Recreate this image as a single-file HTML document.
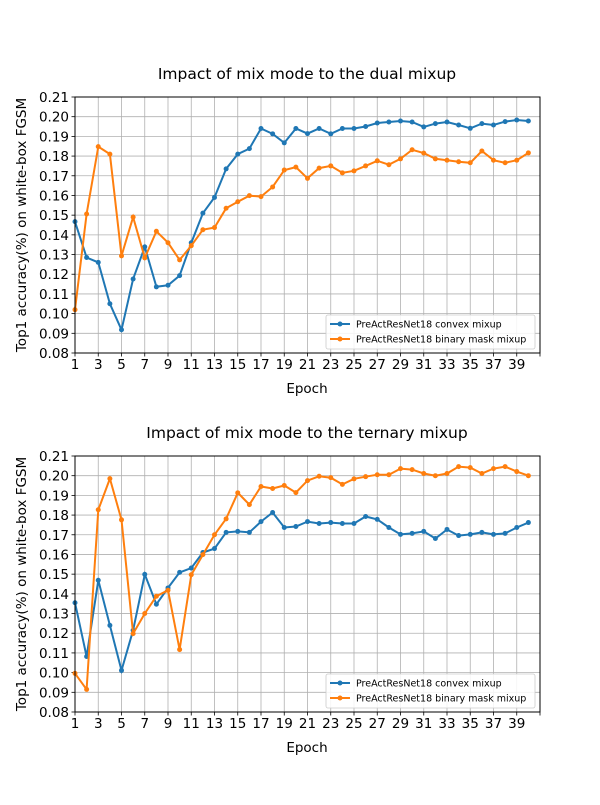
<!DOCTYPE html>
<html><head><meta charset="utf-8"><style>
body{margin:0;background:#fff;font-family:"Liberation Sans","DejaVu Sans",sans-serif}
svg text{font-family:"DejaVu Sans","Liberation Sans",sans-serif}
</style></head><body>
<svg id="chart" width="600" height="800" xmlns="http://www.w3.org/2000/svg"></svg>
<script>
const epochs = Array.from({length:40},(_, i)=>i+1);
const xTicks = [1,3,5,7,9,11,13,15,17,19,21,23,25,27,29,31,33,35,37,39,41];
const xTickLabels = ["1","3","5","7","9","11","13","15","17","19","21","23","25","27","29","31","33","35","37","39",""];
const yTicks = [0.08,0.09,0.10,0.11,0.12,0.13,0.14,0.15,0.16,0.17,0.18,0.19,0.20,0.21];
const titles = ["Impact of mix mode to the dual mixup","Impact of mix mode to the ternary mixup"];
const seriesNames = ["PreActResNet18 convex mixup","PreActResNet18 binary mask mixup"];
const dualConvex = [0.1467,0.1285,0.126,0.105,0.0918,0.1176,0.1339,0.1136,0.1144,0.1193,0.136,0.151,0.159,0.1735,0.181,0.1838,0.194,0.1913,0.1867,0.194,0.1914,0.194,0.1913,0.194,0.194,0.195,0.1968,0.1973,0.1978,0.1973,0.1948,0.1965,0.1973,0.1958,0.1941,0.1965,0.1958,0.1975,0.1983,0.1978];
const dualBinary = [0.102,0.1506,0.1848,0.181,0.1293,0.149,0.1283,0.1418,0.136,0.1273,0.1345,0.1426,0.1437,0.1535,0.1568,0.1599,0.1594,0.1643,0.1729,0.1744,0.1687,0.1739,0.175,0.1715,0.1725,0.175,0.1776,0.1756,0.1786,0.1832,0.1815,0.1786,0.1779,0.1771,0.1766,0.1826,0.1779,0.1766,0.1779,0.1816];
const ternConvex = [0.1355,0.1082,0.1469,0.124,0.1011,0.1215,0.1499,0.1347,0.143,0.1509,0.1531,0.161,0.163,0.1712,0.1717,0.1712,0.1767,0.1813,0.1737,0.1742,0.1767,0.1757,0.1762,0.1757,0.1757,0.1793,0.1778,0.1737,0.1702,0.1707,0.1717,0.1681,0.1727,0.1696,0.1702,0.1712,0.1702,0.1707,0.1737,0.1762];
const ternBinary = [0.0996,0.0915,0.1827,0.1985,0.1776,0.1198,0.13,0.1388,0.1418,0.1117,0.1497,0.1599,0.17,0.1781,0.1913,0.1853,0.1945,0.1935,0.195,0.1914,0.1975,0.1997,0.199,0.1956,0.1984,0.1995,0.2005,0.2005,0.2036,0.2031,0.2011,0.2,0.2011,0.2046,0.2041,0.2011,0.2036,0.2046,0.2021,0.2];

const NS="http://www.w3.org/2000/svg";
const svg=document.getElementById('chart');
const colors=["#1f77b4","#ff7f0e"];
function el(tag,attrs,parent){const e=document.createElementNS(NS,tag);for(const k in attrs)e.setAttribute(k,attrs[k]);(parent||svg).appendChild(e);return e;}

function panel(top,title,s1,s2,idx){
  const L=75,R=540,T=top,B=top+256;
  const xs=v=>L+(v-1)/40*(R-L);
  const ys=v=>B-(v-0.08)/0.13*(B-T);
  const g=el('g',{});
  
  
  xTicks.forEach((t,i)=>{
    const x=xs(t);
    const gl=el('line',{x1:x,x2:x,y1:T,y2:B,stroke:'#b0b0b0','stroke-width':0.8},g);
    
    
    el('line',{x1:x,x2:x,y1:B,y2:B+3.5,stroke:'#000','stroke-width':0.8},g);
    const tx=el('text',{x:x,y:B+16,'text-anchor':'middle','font-size':13.5},g);
    tx.textContent=xTickLabels[i];
    
    
  });
  yTicks.forEach(t=>{
    const y=ys(t);
    const gl=el('line',{x1:L,x2:R,y1:y,y2:y,stroke:'#b0b0b0','stroke-width':0.8},g);
    
    
    el('line',{x1:L-3.5,x2:L,y1:y,y2:y,stroke:'#000','stroke-width':0.8},g);
    const tx=el('text',{x:L-6,y:y+5,'text-anchor':'end','font-size':13.5},g);
    tx.textContent=t.toFixed(2);
    
    
  });
  [s1,s2].forEach((s,si)=>{
    const pts=s.map((v,i)=>xs(epochs[i]).toFixed(1)+','+ys(v).toFixed(1)).join(' ');
    const pl=el('polyline',{points:pts,fill:'none',stroke:colors[si],'stroke-width':2},g);
    
    
    s.forEach((v,i)=>{
      const c=el('circle',{cx:xs(epochs[i]),cy:ys(v),r:2.5,fill:colors[si]},g);
      
      
    });
  });
  const fr=el('rect',{x:L,y:T,width:R-L,height:B-T,fill:'none',stroke:'#000','stroke-width':1},g);
  
  
  const tt=el('text',{x:307,y:T-18,'text-anchor':'middle','font-size':15.5},g);
  tt.textContent=title;
  
  
  const xl=el('text',{x:307,y:B+40,'text-anchor':'middle','font-size':13.5},g);
  xl.textContent='Epoch';
  
  
  const cy=(T+B)/2;
  const yl=el('text',{x:26,y:cy,'text-anchor':'middle','font-size':13.5,transform:`rotate(-90 26 ${cy})`},g);
  yl.textContent='Top1 accuracy(%) on white-box FGSM';
  
  
  const lg=el('g',{},g);
  
  
  el('rect',{x:326,y:B-38,width:209,height:34,rx:2,fill:'#fff','fill-opacity':0.85,stroke:'#ccc','stroke-width':0.8},lg);
  seriesNames.forEach((n,i)=>{
    const y=B-29+i*15;
    el('line',{x1:330,x2:350,y1:y,y2:y,stroke:colors[i],'stroke-width':2},lg);
    el('circle',{cx:340,cy:y,r:2.5,fill:colors[i]},lg);
    const t=el('text',{x:356,y:y+3.5,'font-size':9.5},lg);
    t.textContent=n;
    
    
  });
}
panel(97,titles[0],dualConvex,dualBinary,0);
panel(456,titles[1],ternConvex,ternBinary,1);
</script>
</body></html>
